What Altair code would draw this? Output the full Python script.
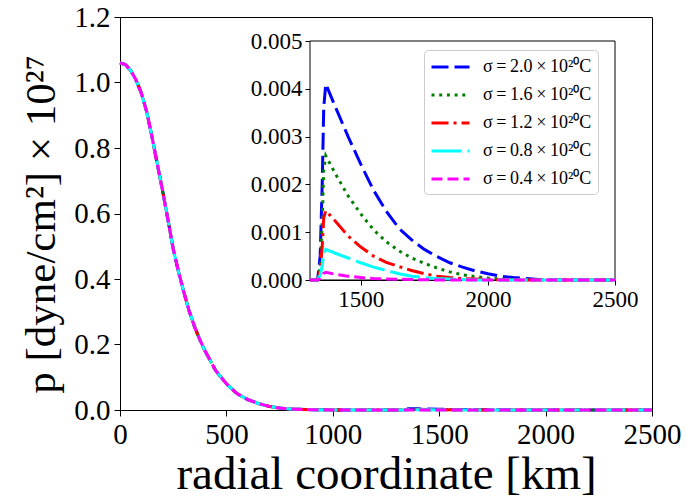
import altair as alt
import pandas as pd

# ---------------- data ----------------
main_r = [0, 25, 50, 75, 100, 125, 150, 175, 200, 225, 250, 275, 300, 325, 350,
          375, 400, 450, 500, 550, 600, 650, 700, 750, 800, 900, 1000, 1100, 1200, 1300]
main_p = [1.060, 1.055, 1.037, 1.008, 0.968, 0.912, 0.835, 0.752, 0.670, 0.582,
          0.492, 0.422, 0.360, 0.302, 0.255, 0.215, 0.180, 0.120, 0.080, 0.050,
          0.032, 0.020, 0.011, 0.006, 0.003, 0.001, 0.0003, 0.0001, 0.00003, 0.0]

inset_r = [1300, 1330, 1340, 1348, 1354, 1362, 1400, 1450, 1500, 1550, 1600, 1650,
           1700, 1750, 1800, 1850, 1900, 1950, 2000, 2050, 2100, 2150, 2200, 2300, 2400, 2500]
p_20 = [0, 0, 0.0005, 0.0020, 0.0036, 0.0041, 0.00362, 0.00300, 0.00242, 0.00188,
        0.00144, 0.00108, 0.00084, 0.00064, 0.00049, 0.00036, 0.00027, 0.00019,
        0.00013, 0.00008, 0.00005, 0.00003, 0.00001, 0, 0, 0]
p_16 = [0, 0, 0.0003, 0.0012, 0.0023, 0.0026, 0.00222, 0.00176, 0.00138, 0.00105,
        0.00080, 0.00061, 0.00046, 0.00035, 0.00025, 0.00017, 0.00011, 0.00007,
        0.00004, 0.00002, 0.00001, 0.000005, 0, 0, 0, 0]
p_12 = [0, 0, 0.0002, 0.0007, 0.0013, 0.00145, 0.00123, 0.00092, 0.00069, 0.00050,
        0.00037, 0.00028, 0.00020, 0.00013, 0.00008, 0.00005, 0.00003, 0.00002,
        0.00001, 0.000005, 0, 0, 0, 0, 0, 0]
p_08 = [0, 0, 0.0001, 0.0003, 0.00055, 0.00064, 0.00056, 0.00046, 0.00036, 0.00027,
        0.00020, 0.00013, 0.00008, 0.00005, 0.00003, 0.00002, 0.00001, 0, 0, 0, 0,
        0, 0, 0, 0, 0]
p_04 = [0, 0, 0.00003, 0.00008, 0.00014, 0.00016, 0.00012, 0.00008, 0.00005, 0.00003,
        0.00002, 0.000015, 0.00001, 0.000005, 0, 0, 0, 0, 0, 0, 0, 0, 0, 0, 0, 0]

labels = ["σ\u2009=\u20092.0\u2009×\u200910²⁰C",
          "σ\u2009=\u20091.6\u2009×\u200910²⁰C",
          "σ\u2009=\u20091.2\u2009×\u200910²⁰C",
          "σ\u2009=\u20090.8\u2009×\u200910²⁰C",
          "σ\u2009=\u20090.4\u2009×\u200910²⁰C"]
series_vals = [p_20, p_16, p_12, p_08, p_04]

main_x_ticks = [0, 500, 1000, 1500, 2000, 2500]
main_y_ticks = [0.0, 0.2, 0.4, 0.6, 0.8, 1.0, 1.2]
inset_x_ticks = [1500, 2000, 2500]
inset_y_ticks = [0.0, 0.001, 0.002, 0.003, 0.004, 0.005]
inset_xlim = [1300, 2500]
inset_ylim = [0.0, 0.005]

# ---------------- styles ----------------
colors = ["#0000ff", "#008000", "#ff0000", "#00ffff", "#ff00ff"]
dashes = [[17, 6], [3, 4.7], [17, 5, 3, 5], [30, 6], [11, 5]]
FONT = "Liberation Serif"

W, H = 532, 393
inset_range_x = [190, 495]
inset_range_y = [263, 24]

rows_main, rows_inset = [], []
for lab, vals in zip(labels, series_vals):
    for r, p in zip(main_r[:-1], main_p[:-1]):
        rows_main.append({"series": lab, "r": r, "p": p})
    for r, p in zip(inset_r, vals):
        rows_main.append({"series": lab, "r": r, "p": p})
        rows_inset.append({"series": lab, "r": r, "p": p})
df_main = pd.DataFrame(rows_main)
df_inset = pd.DataFrame(rows_inset)
df_frame = pd.DataFrame({"r": [inset_xlim[0]], "r2": [inset_xlim[1]],
                         "p": [inset_ylim[0]], "p2": [inset_ylim[1]]})

color_scale = alt.Scale(domain=labels, range=colors)
dash_scale = alt.Scale(domain=labels, range=dashes)

main_x = alt.X("r:Q", scale=alt.Scale(domain=[0, 2500], nice=False, zero=False),
               axis=alt.Axis(values=main_x_ticks, format="d", labelFlush=False,
                             title="radial coordinate [km]",
                             labelFontSize=29, titleFontSize=47, titleFontWeight="normal",
                             tickSize=6, labelPadding=4, titlePadding=2, grid=False,
                             domainColor="black", tickColor="black", labelColor="black",
                             titleColor="black",
                             labelFont=FONT, titleFont=FONT, orient="bottom"))
main_y = alt.Y("p:Q", scale=alt.Scale(domain=[0, 1.2], nice=False, zero=False),
               axis=alt.Axis(values=main_y_ticks, format=".1f", labelFlush=False,
                             title="p [dyne/cm²] × 10²⁷",
                             labelFontSize=29, titleFontSize=43, titleFontWeight="normal",
                             tickSize=6, labelPadding=4, titlePadding=10, grid=False,
                             titleY=207,
                             domainColor="black", tickColor="black", labelColor="black",
                             titleColor="black",
                             labelFont=FONT, titleFont=FONT, orient="left"))

main = alt.Chart(df_main).mark_line(strokeWidth=3).encode(
    x=main_x, y=main_y,
    color=alt.Color("series:N", scale=color_scale),
    strokeDash=alt.StrokeDash("series:N", scale=dash_scale),
)

inset_axis_x = alt.Axis(values=inset_x_ticks, format="d", labelFlush=False,
                        labelFontSize=23, tickSize=5,
                        labelPadding=3, grid=False, domainColor="black",
                        tickColor="black", labelColor="black", labelFont=FONT,
                        orient="bottom", offset=-(H - inset_range_y[0]))
inset_axis_y = alt.Axis(values=inset_y_ticks, format=".3f", labelFlush=False,
                        labelFontSize=23,
                        tickSize=5, labelPadding=3, grid=False, domainColor="black",
                        tickColor="black", labelColor="black", labelFont=FONT,
                        orient="left", offset=-inset_range_x[0])
inset_xs = alt.Scale(domain=inset_xlim, range=inset_range_x, nice=False, zero=False)
inset_ys = alt.Scale(domain=inset_ylim, range=inset_range_y, nice=False, zero=False)

frame = alt.Chart(df_frame).mark_rect(fill="white", stroke="black", strokeWidth=1).encode(
    x=alt.X("r:Q", scale=inset_xs, axis=inset_axis_x, title=None),
    x2="r2:Q",
    y=alt.Y("p:Q", scale=inset_ys, axis=inset_axis_y, title=None),
    y2="p2:Q",
)

legend = alt.Legend(title=None, orient="none", legendX=304, legendY=33,
                    fillColor="white", strokeColor="#cccccc", cornerRadius=4,
                    padding=6, symbolType="M-1,0H3", symbolSize=361,
                    symbolStrokeWidth=3, labelFont=FONT, labelFontSize=18,
                    labelColor="black", labelOffset=31, rowPadding=8)

inset_lines = alt.Chart(df_inset).mark_line(strokeWidth=3).encode(
    x=alt.X("r:Q", scale=inset_xs, axis=inset_axis_x, title=None),
    y=alt.Y("p:Q", scale=inset_ys, axis=inset_axis_y, title=None),
    color=alt.Color("series:N", scale=color_scale, legend=legend),
    strokeDash=alt.StrokeDash("series:N", scale=dash_scale, legend=legend),
)

inset = alt.layer(frame, inset_lines)

chart = alt.layer(main, inset).resolve_scale(
    x="independent", y="independent"
).properties(
    width=W, height=H,
    autosize=alt.AutoSizeParams(type="none"),
    padding={"left": 120, "top": 17, "right": 35, "bottom": 90},
    background="white",
).configure_view(stroke="black", strokeWidth=1)

chart.save("out.html", embed_options={"renderer": "svg", "actions": False})
